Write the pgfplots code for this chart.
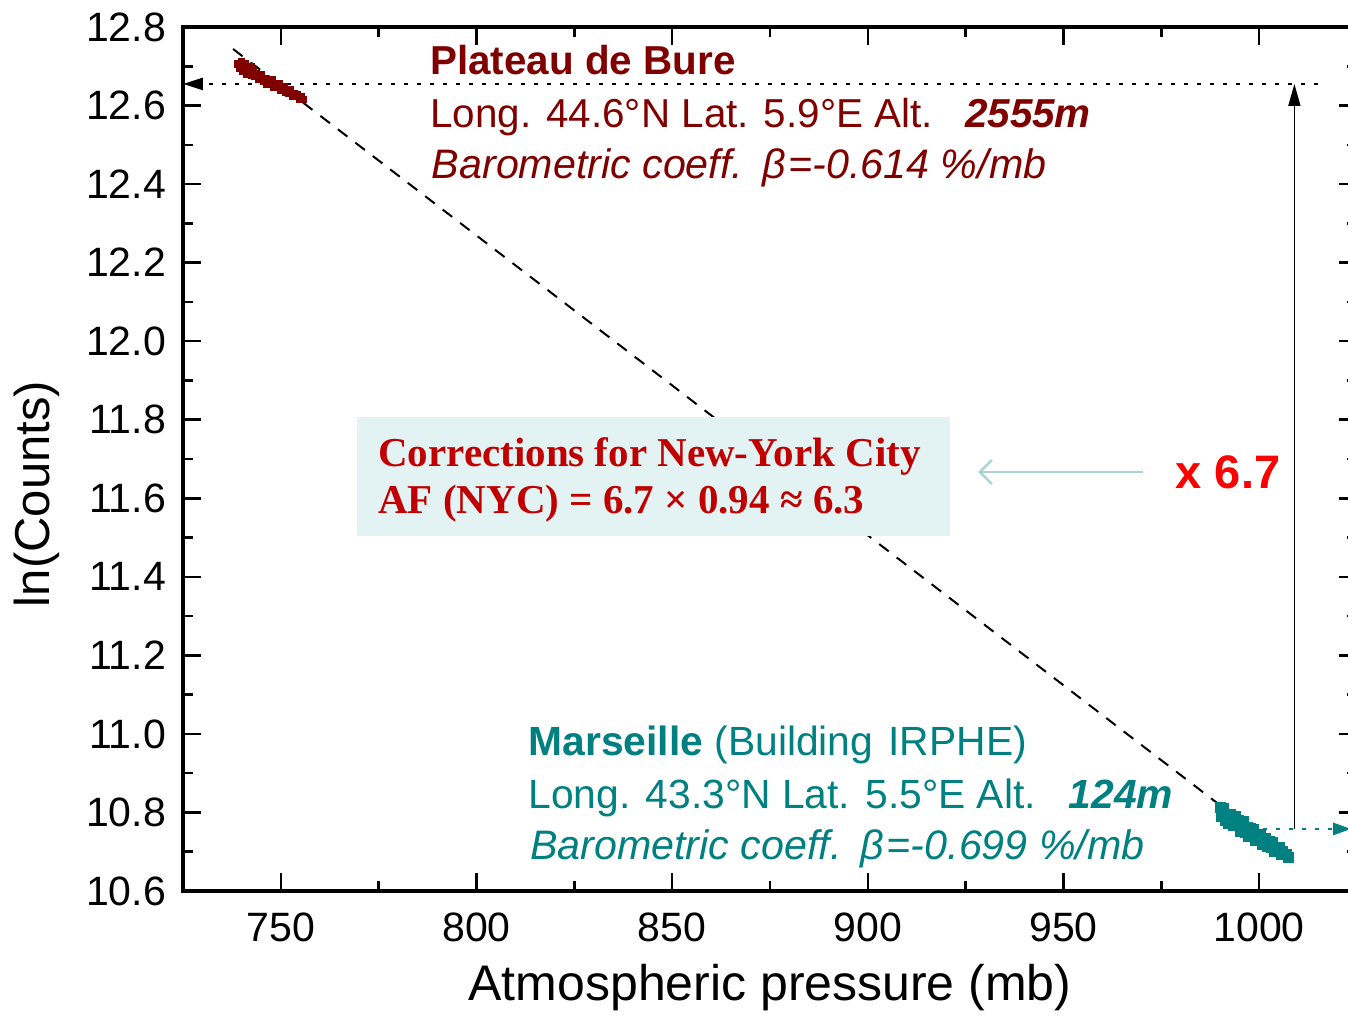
\documentclass[border=0pt]{standalone}
\usepackage{fontspec}
\setmainfont{Liberation Sans}
\newfontfamily\serifbox{Liberation Serif}
\usepackage{pgfplots}
\pgfplotsset{compat=1.18}
\usetikzlibrary{arrows.meta}
\definecolor{plat}{HTML}{800000}
\definecolor{mars}{HTML}{008080}
\definecolor{boxred}{HTML}{C00000}
\definecolor{boxfill}{HTML}{E3F2F2}
\definecolor{arrowcyan}{HTML}{A8D4D4}
\begin{document}
\begin{tikzpicture}
\path[use as bounding box] (-91.5pt,-63.5pt) rectangle (674pt-91.5pt,445.5pt);
\begin{axis}[
  at={(0,0)}, anchor=south west,
  scale only axis, width=587pt, height=432pt,
  xmin=725, xmax=1025, ymin=10.6, ymax=12.8,
  xtick={750,800,850,900,950,1000},
  minor xtick={775,825,875,925,975,1025},
  ytick={10.6,10.8,11.0,11.2,11.4,11.6,11.8,12.0,12.2,12.4,12.6,12.8},
  minor ytick={10.7,10.9,11.1,11.3,11.5,11.7,11.9,12.1,12.3,12.5,12.7},
  tick align=inside,
  major tick length=9pt, minor tick length=5pt,
  axis line style={line width=1.7pt},
  every tick/.style={black, line width=1.3pt},
  tick label style={font=\fontsize{20.5}{24}\selectfont},
  /pgf/number format/assume math mode=true,
  yticklabel style={/pgf/number format/.cd, fixed, fixed zerofill, precision=1, /tikz/.cd, xshift=-5pt},
  xticklabel style={/pgf/number format/.cd, fixed, 1000 sep={}, /tikz/.cd, yshift=-7.5pt},
  xlabel style={font=\fontsize{25}{30}\selectfont, at={(axis description cs:0.5,-0.1273)}, anchor=base},
  ylabel style={font=\fontsize{24.5}{30}\selectfont, at={(axis description cs:-0.1133,0.4595)}, anchor=base},
  xlabel={Atmospheric pressure (mb)},
  ylabel={ln(Counts)},
  clip=false,
]
% Plateau de Bure data
\addplot[only marks, mark=square*, mark size=1.6pt, color=plat, mark options={draw=plat, fill=plat}] coordinates {
(739.0,12.706) (739.4,12.694) (739.8,12.705) (740.3,12.687) (740.8,12.694)
(741.2,12.679) (741.6,12.694) (742.0,12.685) (742.5,12.677) (743.0,12.688)
(743.4,12.675) (743.8,12.681) (744.3,12.666) (744.7,12.674) (745.1,12.679)
(745.6,12.662) (746.0,12.669) (746.4,12.654) (746.9,12.667) (747.3,12.657)
(747.7,12.665) (748.2,12.647) (748.6,12.655) (749.0,12.646) (749.5,12.655)
(749.9,12.638) (750.3,12.645) (750.8,12.647) (751.2,12.633) (751.6,12.641)
(752.1,12.632) (752.5,12.640) (752.9,12.624) (753.4,12.630) (753.8,12.624)
(754.2,12.629) (754.7,12.617) (755.1,12.622) (755.6,12.616)
(740.0,12.712) (741.0,12.708) (742.5,12.700)
};
% Marseille data
\addplot[only marks, mark=square*, mark size=2.5pt, color=mars, mark options={draw=mars, fill=mars}] coordinates {
(990.0,10.812) (990.4,10.789) (990.8,10.811) (991.3,10.780) (991.7,10.794)
(992.1,10.771) (992.6,10.795) (993.0,10.781) (993.4,10.768) (993.9,10.789)
(994.3,10.767) (994.7,10.779) (995.2,10.753) (995.6,10.768) (996.0,10.777)
(996.5,10.749) (996.9,10.763) (997.3,10.738) (997.8,10.760) (998.2,10.744)
(998.6,10.758) (999.1,10.730) (999.5,10.744) (999.9,10.730) (1000.4,10.744)
(1000.8,10.718) (1001.2,10.730) (1001.7,10.735) (1002.1,10.713) (1002.5,10.726)
(1003.0,10.712) (1003.4,10.725) (1003.8,10.701) (1004.3,10.712) (1004.7,10.703)
(1005.1,10.711) (1005.6,10.692) (1006.0,10.701) (1006.5,10.692) (1007.0,10.693)
(1007.5,10.685)
};
% fit line
\addplot[black, line width=1pt, dash pattern=on 6pt off 5pt] coordinates {(737.8,12.744) (1008,10.681)};

% box
\fill[boxfill] (axis cs:769.5,11.504) rectangle (axis cs:921.1,11.807);
\node[anchor=base west, inner sep=0pt, text=boxred, font=\serifbox\bfseries\fontsize{20.5}{24}\selectfont] at (axis cs:774.8,11.682) {Corrections for New-York City};
\node[anchor=base west, inner sep=0pt, text=boxred, font=\serifbox\bfseries\fontsize{20.5}{24}\selectfont] at (axis cs:774.8,11.560) {AF (NYC) = 6.7 × 0.94 ≈ 6.3};

% arrows
\draw[black, line width=1.3pt, dash pattern=on 2pt off 4.5pt, -{Triangle[length=10pt,width=6pt]}] (axis cs:1015.1,12.655) -- (axis cs:725,12.655);
\draw[black, line width=0.8pt, -{Triangle[length=11pt,width=6pt]}] (axis cs:1009,10.758) -- (axis cs:1009,12.655);
\draw[mars, line width=1.3pt, dash pattern=on 2pt off 4.5pt, -{Triangle[length=9pt,width=6pt]}] (axis cs:1001,10.758) -- (axis cs:1023.5,10.758);
\draw[arrowcyan, line width=1.2pt, -{Straight Barb[length=6pt,width=12pt]}] (axis cs:970.4,11.667) -- (axis cs:928.2,11.667);
\node[anchor=base west, inner sep=0pt, text=red, font=\bfseries\fontsize{23.5}{28}\selectfont] at (axis cs:978.6,11.624) {x 6.7};

% Plateau de Bure text
\node[anchor=base west, inner sep=0pt, text=plat, font=\bfseries\fontsize{20.2}{24}\selectfont] at (axis cs:788.1,12.680) {Plateau de Bure};
\node[anchor=base west, inner sep=0pt, text=plat, font=\fontsize{20.2}{24}\selectfont] at (axis cs:788.1,12.545) {Long. 44.6°N Lat. 5.9°E Alt.\hspace{0.8em}\textbf{\textit{2555m}}};
\node[anchor=base west, inner sep=0pt, text=plat, font=\itshape\fontsize{20.6}{24}\selectfont] at (axis cs:788.5,12.413) {Barometric coeff.\hspace{0.1em} β\hspace{0.06em}=-0.614 \%/mb};

% Marseille text
\node[anchor=base west, inner sep=0pt, text=mars, font=\fontsize{20.4}{24}\selectfont] at (axis cs:813.2,10.944) {\textbf{Marseille} (Building\hspace{0.1em} IRPHE)};
\node[anchor=base west, inner sep=0pt, text=mars, font=\fontsize{20.4}{24}\selectfont] at (axis cs:813.2,10.809) {Long. 43.3°N Lat. 5.5°E Alt.\hspace{0.8em}\textbf{\textit{124m}}};
\node[anchor=base west, inner sep=0pt, text=mars, font=\itshape\fontsize{20.6}{24}\selectfont] at (axis cs:813.6,10.681) {Barometric coeff.\hspace{0.1em} β\hspace{0.06em}=-0.699 \%/mb};
\end{axis}
\end{tikzpicture}
\end{document}
